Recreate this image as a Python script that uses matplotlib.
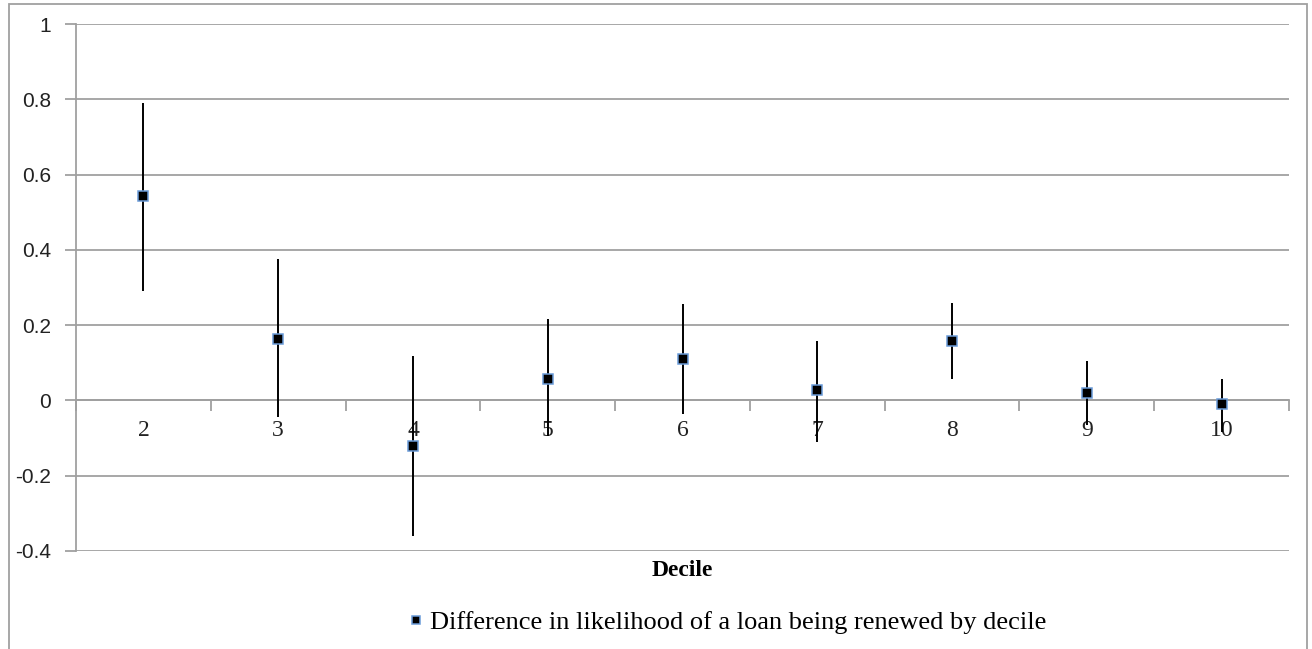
import numpy as np
import matplotlib
matplotlib.use("Agg")
import matplotlib.pyplot as plt
from matplotlib.patches import Rectangle
from matplotlib.lines import Line2D

# Estimated difference and confidence bounds per decile
deciles = ["2", "3", "4", "5", "6", "7", "8", "9", "10"]
diff = [0.544, 0.164, -0.122, 0.058, 0.109, 0.027, 0.157, 0.019, -0.010]
upper = [0.790, 0.377, 0.119, 0.215, 0.255, 0.159, 0.260, 0.106, 0.058]
lower = [0.292, -0.045, -0.361, -0.095, -0.037, -0.111, 0.056, -0.064, -0.085]
yticks = [-0.4, -0.2, 0, 0.2, 0.4, 0.6, 0.8, 1]
ytick_labels = ["-0.4", "-0.2", "0", "0.2", "0.4", "0.6", "0.8", "1"]

grid_col = "#a0a0a0"
serif = "Liberation Serif"

fig = plt.figure(figsize=(13.12, 6.49), dpi=100)
# chart area border
fig.patches.append(Rectangle((9 / 1312, -0.1), 1298 / 1312, 1.1 - 4 / 649,
                             transform=fig.transFigure, fill=False,
                             edgecolor="#a0a0a0", lw=1.3))

ax = fig.add_axes([76 / 1312, 98 / 649, 1213 / 1312, 527 / 649])
n = len(deciles)
x = np.arange(n)
diff = np.array(diff)
err = [diff - np.array(lower), np.array(upper) - diff]

ax.errorbar(x, diff, yerr=err, fmt="none", ecolor="black", elinewidth=1.4,
            capsize=0, zorder=3)
ax.plot(x, diff, ls="none", marker="s", ms=6.5, mfc="black", mec="#6a9bd8",
        mew=1.1, zorder=4)

ax.set_xlim(-0.5, n - 0.5)
ax.set_ylim(-0.4, 1)
ax.set_yticks(yticks)
ax.set_yticklabels(ytick_labels, family="Liberation Sans", fontsize=15, color="#222222")
ax.yaxis.grid(True, color=grid_col, lw=1.3)
ax.set_axisbelow(True)
ax.tick_params(axis="y", direction="out", length=8, width=1.3, color=grid_col, pad=10)

for s in ["top", "right"]:
    ax.spines[s].set_visible(False)
ax.spines["left"].set_color(grid_col)
ax.spines["left"].set_linewidth(1.3)
ax.spines["bottom"].set_position(("data", 0))
ax.spines["bottom"].set_color(grid_col)
ax.spines["bottom"].set_linewidth(1.3)

# category labels at centres, tick marks at category boundaries
ax.set_xticks(x)
ax.set_xticklabels(deciles, family=serif, fontsize=17, color="#222222")
ax.set_xticks(np.arange(n + 1) - 0.5, minor=True)
ax.tick_params(axis="x", which="major", length=0, pad=14)
ax.tick_params(axis="x", which="minor", direction="out", length=8, width=1.3, color=grid_col)

fig.text(682 / 1312, 1 - 570 / 649, "Decile", family=serif, fontweight="bold",
         fontsize=17, ha="center", va="center", color="black")

handle = Line2D([], [], ls="none", marker="s", ms=6, mfc="black", mec="#6a9bd8", mew=1.1)
fig.legend([handle], ["Difference in likelihood of a loan being renewed by decile"],
           loc="center", bbox_to_anchor=(728 / 1312, 1 - 622 / 649), frameon=False,
           prop={"family": serif, "size": 19}, handlelength=0.5, handletextpad=0.3)

fig.savefig("out.png", dpi=100)
